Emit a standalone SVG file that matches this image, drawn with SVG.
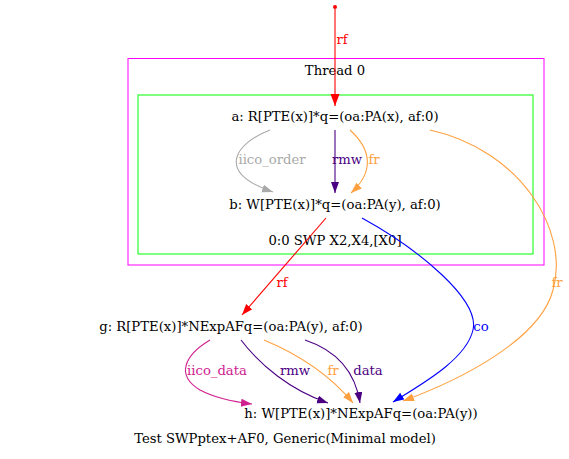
<svg xmlns="http://www.w3.org/2000/svg" width="569" height="459" viewBox="0 0 569 459">
<style>
text{font-family:"DejaVu Serif","Liberation Serif",serif;font-size:13.2px;text-anchor:middle}
.e{fill:none;stroke-width:1.1}
</style>
<defs>
<marker id="mRed" markerUnits="userSpaceOnUse" markerWidth="14" markerHeight="12" refX="12" refY="4.5" orient="auto"><path d="M0,0 L12,4.5 L0,9 z" fill="#FF0000"/></marker>
<marker id="mGray" markerUnits="userSpaceOnUse" markerWidth="14" markerHeight="12" refX="11" refY="4" orient="auto"><path d="M0,0 L11,4 L0,8 z" fill="#A9A9A9"/></marker>
<marker id="mInd" markerUnits="userSpaceOnUse" markerWidth="14" markerHeight="12" refX="11" refY="4" orient="auto"><path d="M0,0 L11,4 L0,8 z" fill="#4B0082"/></marker>
<marker id="mOr" markerUnits="userSpaceOnUse" markerWidth="14" markerHeight="12" refX="11" refY="4" orient="auto"><path d="M0,0 L11,4 L0,8 z" fill="#FFA040"/></marker>
<marker id="mBlue" markerUnits="userSpaceOnUse" markerWidth="14" markerHeight="12" refX="11" refY="4" orient="auto"><path d="M0,0 L11,4 L0,8 z" fill="#0000FF"/></marker>
<marker id="mPink" markerUnits="userSpaceOnUse" markerWidth="14" markerHeight="12" refX="11" refY="4" orient="auto"><path d="M0,0 L11,4 L0,8 z" fill="#D02090"/></marker>
<marker id="mRed2" markerUnits="userSpaceOnUse" markerWidth="14" markerHeight="12" refX="11" refY="4" orient="auto"><path d="M0,0 L11,4 L0,8 z" fill="#FF0000"/></marker>
</defs>
<rect width="569" height="459" fill="#FFFFFF"/>
<g id="cluster_thread0">
<rect x="128" y="58.5" width="416" height="206.5" fill="none" stroke="#FF00FF" stroke-width="1"/>
<text x="335" y="75">Thread 0</text>
</g>
<g id="cluster_instr">
<rect x="138" y="95" width="395" height="159" fill="none" stroke="#00FF00" stroke-width="1"/>
<text x="335" y="245">0:0 SWP X2,X4,[X0]</text>
</g>
<g id="connectors">
<circle cx="335" cy="7" r="2" fill="#FF0000"/>
<path class="e" d="M335,9 L335,106" stroke="#FF0000" stroke-width="1.5" marker-end="url(#mRed)"/>
<text x="342" y="44" fill="#FF0000">rf</text>
<path class="e" d="M270,130 C236,143 214,172 273,192" stroke="#A9A9A9" marker-end="url(#mGray)"/>
<text x="272" y="164" fill="#A9A9A9">iico_order</text>
<path class="e" d="M335,130 L335,193" stroke="#4B0082" stroke-width="1.6" marker-end="url(#mInd)"/>
<text x="347" y="164" fill="#4B0082">rmw</text>
<path class="e" d="M350,130 C372,150 374,172 351,193" stroke="#FFA040" marker-end="url(#mOr)"/>
<text x="374" y="164" fill="#FFA040">fr</text>
<path class="e" d="M430,130 C520,150 570,230 553,290 C540,340 460,380 403,401" stroke="#FFA040" marker-end="url(#mOr)"/>
<text x="557" y="287" fill="#FFA040">fr</text>
<path class="e" d="M326,218 L242,315" stroke="#FF0000" marker-end="url(#mRed2)"/>
<text x="282" y="287" fill="#FF0000">rf</text>
<path class="e" d="M362,218 C420,250 480,300 473,330 C466,360 420,385 393,402" stroke="#0000FF" marker-end="url(#mBlue)"/>
<text x="481" y="331" fill="#0000FF">co</text>
<path class="e" d="M210,340 C185,355 175,375 200,390 C215,398 235,402 252,404" stroke="#D02090" marker-end="url(#mPink)"/>
<text x="217" y="375" fill="#D02090">iico_data</text>
<path class="e" d="M241,340 C260,365 290,390 328,403" stroke="#4B0082" marker-end="url(#mInd)"/>
<text x="295" y="375" fill="#4B0082">rmw</text>
<path class="e" d="M264,340 C300,355 330,375 353,403" stroke="#FFA040" marker-end="url(#mOr)"/>
<text x="333" y="375" fill="#FFA040">fr</text>
<path class="e" d="M305,340 C335,350 355,370 360,403" stroke="#4B0082" marker-end="url(#mInd)"/>
<text x="368" y="375" fill="#4B0082">data</text>
</g>
<g id="node_a"><text x="335" y="121">a: R[PTE(x)]*q=(oa:PA(x), af:0)</text></g>
<g id="node_b"><text x="335" y="209">b: W[PTE(x)]*q=(oa:PA(y), af:0)</text></g>
<g id="node_g"><text x="231" y="331">g: R[PTE(x)]*NExpAFq=(oa:PA(y), af:0)</text></g>
<g id="node_h"><text x="361" y="418">h: W[PTE(x)]*NExpAFq=(oa:PA(y))</text></g>
<g id="title"><text x="285" y="443">Test SWPptex+AF0, Generic(Minimal model)</text></g>
</svg>
